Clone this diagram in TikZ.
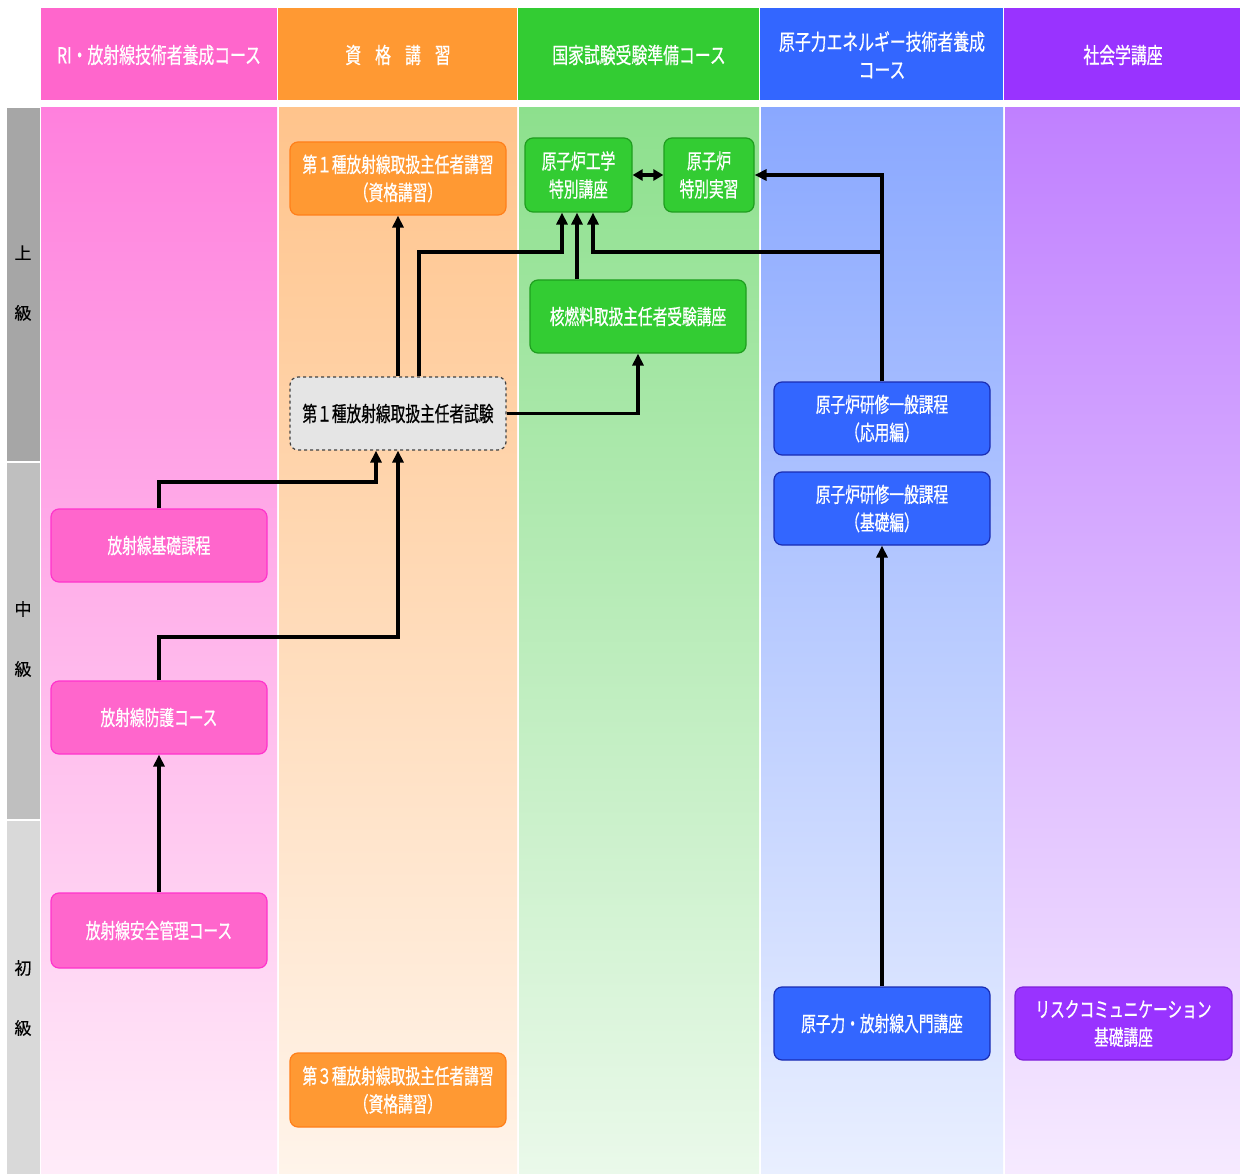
\documentclass[tikz,border=0pt]{standalone}
\usepackage{fontspec}
\usetikzlibrary{arrows.meta,calc}
\newfontfamily\jp[FakeStretch=0.70,FakeBold=0.6]{Noto Sans CJK JP}
\newfontfamily\jph[FakeStretch=0.72,FakeBold=0.6]{Noto Sans CJK JP}
\newfontfamily\jpn[FakeBold=0.3]{Noto Sans CJK JP}
\definecolor{hpink}{HTML}{FF66CC}
\definecolor{horange}{HTML}{FF9933}
\definecolor{hgreen}{HTML}{33CC33}
\definecolor{hblue}{HTML}{3366FF}
\definecolor{hpurple}{HTML}{9933FF}
\definecolor{bpink}{HTML}{FF33CC}
\definecolor{borange}{HTML}{FF7F1A}
\definecolor{bgreen}{HTML}{1F9E1F}
\definecolor{bblue}{HTML}{1A2DB3}
\definecolor{bpurple}{HTML}{7F1FD9}
\definecolor{lvA}{HTML}{A6A6A6}
\definecolor{lvB}{HTML}{BFBFBF}
\definecolor{lvC}{HTML}{D9D9D9}
\tikzset{
  box/.style={rounded corners=8pt, minimum width=216pt, minimum height=73pt,
    align=center, text=white, line width=1.2pt, inner sep=2pt,
    font=\jp\fontsize{21}{28}\selectfont},
  pinkbox/.style={box, fill=hpink, draw=bpink},
  orangebox/.style={box, fill=horange, draw=borange},
  greenbox/.style={box, fill=hgreen, draw=bgreen},
  bluebox/.style={box, fill=hblue, draw=bblue},
  purplebox/.style={box, fill=hpurple, draw=bpurple},
  exambox/.style={box, fill=black!10, draw=black!75, dashed, text=black},
  head/.style={text=white, align=center, font=\jph\fontsize{22}{28}\selectfont},
  lvl/.style={text=black, align=center, font=\jpn\fontsize{17}{60}\selectfont},
  arr/.style={line width=3.5pt, -{Triangle[length=12pt,width=11pt]}},
  dblarr/.style={line width=3.5pt, {Triangle[length=10pt,width=11pt]}-{Triangle[length=10pt,width=11pt]}},
}
\begin{document}
\begin{tikzpicture}[x=1pt,y=-1pt]
\useasboundingbox (0,0) rectangle (1240,1174);
\fill[white] (0,0) rectangle (1240,1174);
% header cells
\fill[hpink]   (41,8) rectangle (277,100);
\fill[horange] (278,8) rectangle (517,100);
\fill[hgreen]  (518,8) rectangle (759,100);
\fill[hblue]   (760,8) rectangle (1003,100);
\fill[hpurple] (1004,8) rectangle (1240,100);
% body columns
\shade[top color={rgb,255:red,255;green,128;blue,221}, bottom color={rgb,255:red,255;green,236;blue,249}] (41,108) rectangle (277,1174);
\shade[top color={rgb,255:red,255;green,196;blue,140}, bottom color={rgb,255:red,255;green,244;blue,234}] (279,108) rectangle (517,1174);
\shade[top color={rgb,255:red,141;green,224;blue,141}, bottom color={rgb,255:red,234;green,249;blue,234}] (519,108) rectangle (759,1174);
\shade[top color={rgb,255:red,138;green,168;blue,255}, bottom color={rgb,255:red,233;green,239;blue,255}] (761,108) rectangle (1003,1174);
\shade[top color={rgb,255:red,192;green,128;blue,255}, bottom color={rgb,255:red,246;green,234;blue,255}] (1005,108) rectangle (1240,1174);
% level column
\fill[lvA] (7,108) rectangle (40,461);
\fill[lvB] (7,463) rectangle (40,819);
\fill[lvC] (7,821) rectangle (40,1174);
% header texts
\node[head] (h1) at (159,55) {RI・放射線技術者養成コース};
\node[head] (h2) at (398,55) {資\hspace{14pt}格\hspace{14pt}講\hspace{14pt}習};
\node[head] (h3) at (639,55) {国家試験受験準備コース};
\node[head] (h4) at (882,55) {原子力エネルギー技術者養成\\コース};
\node[head] (h5) at (1123,55) {社会学講座};
% level labels
\node[lvl] (l1) at (23,283) {上\\級};
\node[lvl] (l2) at (23,639) {中\\級};
\node[lvl] (l3) at (23,998) {初\\級};
% nodes
\node[orangebox] (k1) at (398,178.5) {第１種放射線取扱主任者講習\\（資格講習）};
\node[greenbox, minimum width=107pt, minimum height=74pt] (gk) at (578.5,175) {原子炉工学\\特別講座};
\node[greenbox, minimum width=90pt, minimum height=74pt] (jk) at (709,175) {原子炉\\特別実習};
\node[greenbox] (nf) at (638,316.5) {核燃料取扱主任者受験講座};
\node[exambox] (ex) at (398,413.5) {第１種放射線取扱主任者試験};
\node[bluebox] (ou) at (882,418.5) {原子炉研修一般課程\\（応用編）};
\node[bluebox] (ki) at (882,508.5) {原子炉研修一般課程\\（基礎編）};
\node[pinkbox] (rb) at (159,545.5) {放射線基礎課程};
\node[pinkbox] (rp) at (159,717.5) {放射線防護コース};
\node[pinkbox, minimum height=75pt] (rs) at (159,930.5) {放射線安全管理コース};
\node[bluebox] (nm) at (882,1023.5) {原子力・放射線入門講座};
\node[purplebox, minimum width=217pt] (rc) at (1123.5,1023.5) {リスクコミュニケーション\\基礎講座};
\node[orangebox, minimum height=74pt] (k3) at (398,1090) {第３種放射線取扱主任者講習\\（資格講習）};
% connectors
\coordinate (j2) at (562,252);
\coordinate (j4) at (593,252);
\coordinate (j7) at (376,482);
\coordinate (j8) at (398,637);
\coordinate (n3) at ([xshift=-61pt]nf.north);
\draw[arr] (ex.north) -- (k1.south);
\draw[arr] ([xshift=21pt]ex.north) |- (j2) -- (j2 |- gk.south);
\draw[arr] (n3) -- (n3 |- gk.south);
\draw[arr] (ou.north) |- (j4) -- (j4 |- gk.south);
\draw[arr] (ou.north) |- (jk.east);
\draw[dblarr] (gk.east) -- (jk.west);
\draw[arr] (ex.east) -| (nf.south);
\draw[arr] (rb.north) |- (j7) -- (j7 |- ex.south);
\draw[arr] (rp.north) |- (j8) -- (ex.south);
\draw[arr] (rs.north) -- (rp.south);
\draw[arr] (nm.north) -- (ki.south);
\end{tikzpicture}
\end{document}
